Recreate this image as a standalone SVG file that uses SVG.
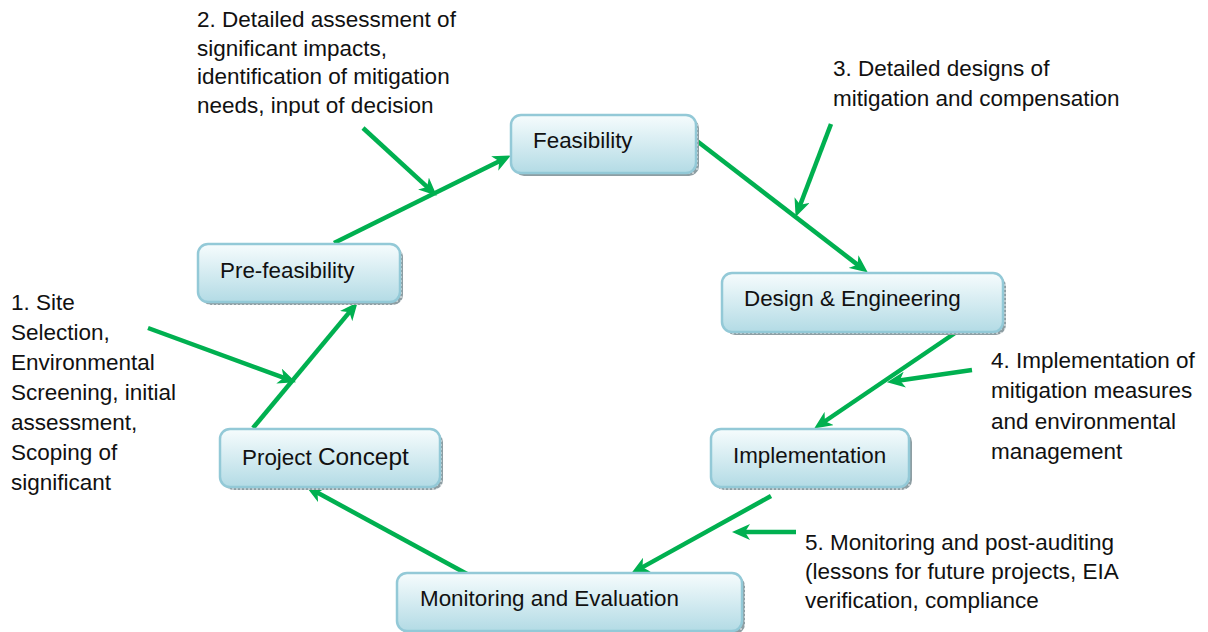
<svg xmlns="http://www.w3.org/2000/svg" width="1208" height="632" viewBox="0 0 1208 632">
<style>
.box{fill:url(#g);stroke:#93c9d7;stroke-width:2.5}
.sh{fill:url(#hatch)}
.lbl{font-family:"Liberation Sans",Arial,sans-serif;font-size:22.4px;fill:#111}
.ann{font-family:"Liberation Sans",Arial,sans-serif;font-size:22.5px;fill:#111}
.con{stroke:#00b050;stroke-width:4.5;fill:none;marker-end:url(#ah)}
</style>
<defs>
<linearGradient id="g" x1="0" y1="0" x2="0" y2="1">
<stop offset="0" stop-color="#f6fcfd"/>
<stop offset="1" stop-color="#b3dbe5"/>
</linearGradient>
<pattern id="hatch" width="4" height="4" patternUnits="userSpaceOnUse">
<rect width="4" height="4" fill="#8e9ea3"/>
<rect width="2" height="2" fill="#c4cdd0"/>
</pattern>
<marker id="ah" markerUnits="userSpaceOnUse" markerWidth="18" markerHeight="16" viewBox="0 0 18 16" refX="9" refY="8" orient="auto">
<path d="M0,0 L18,8 L0,16 L5,8 z" fill="#00b050"/>
</marker>
<clipPath id="c2"><rect x="0" y="0" width="600" height="116"/></clipPath>
</defs>

<g id="connectors">
<line class="con" x1="334" y1="243" x2="502.8" y2="159.5"/>
<line class="con" x1="363" y1="128" x2="430.1" y2="189.6"/>
<line class="con" x1="697" y1="141" x2="860.7" y2="267.1"/>
<line class="con" x1="831" y1="124" x2="798.8" y2="208.5"/>
<line class="con" x1="958" y1="331" x2="821.6" y2="423.5"/>
<line class="con" x1="972" y1="370" x2="895.9" y2="380.9"/>
<line class="con" x1="771" y1="496" x2="639" y2="569.1"/>
<line class="con" x1="796" y1="532" x2="741" y2="532"/>
<line class="con" x1="467" y1="574" x2="314" y2="490.8"/>
<line class="con" x1="253" y1="428" x2="351.9" y2="309.1"/>
<line class="con" x1="148" y1="328" x2="287.5" y2="379.2"/>
</g>

<g id="feasibility">
<rect class="sh" x="514" y="118" width="185" height="58" rx="10"/>
<rect class="box" x="511" y="115" width="185" height="58" rx="10"/>
<text class="lbl" x="533" y="148">Feasibility</text>
</g>
<g id="pre-feasibility">
<rect class="sh" x="201" y="247" width="202" height="58" rx="10"/>
<rect class="box" x="198" y="244" width="202" height="58" rx="10"/>
<text class="lbl" x="220" y="278">Pre-feasibility</text>
</g>
<g id="design-engineering">
<rect class="sh" x="725" y="276" width="281" height="59" rx="10"/>
<rect class="box" x="722" y="273" width="281" height="59" rx="10"/>
<text class="lbl" x="744" y="306">Design &amp; Engineering</text>
</g>
<g id="project-concept">
<rect class="sh" x="223" y="432" width="220" height="58" rx="10"/>
<rect class="box" x="220" y="429" width="220" height="58" rx="10"/>
<text class="lbl" x="242" y="465">Project <tspan font-size="24.4">Concept</tspan></text>
</g>
<g id="implementation">
<rect class="sh" x="714" y="432" width="198" height="58" rx="10"/>
<rect class="box" x="711" y="429" width="198" height="58" rx="10"/>
<text class="lbl" x="733" y="463">Implementation</text>
</g>
<g id="monitoring-evaluation">
<rect class="sh" x="400" y="576" width="345" height="58" rx="10"/>
<rect class="box" x="397" y="573" width="345" height="58" rx="10"/>
<text class="lbl" x="420" y="606">Monitoring and Evaluation</text>
</g>

<g id="note-1">
<text class="ann" x="11" y="310">1. Site</text>
<text class="ann" x="11" y="340">Selection,</text>
<text class="ann" x="11" y="370">Environmental</text>
<text class="ann" x="11" y="400">Screening, initial</text>
<text class="ann" x="11" y="430">assessment,</text>
<text class="ann" x="11" y="460">Scoping of</text>
<text class="ann" x="11" y="490">significant</text>
</g>
<g id="note-2" clip-path="url(#c2)">
<text class="ann" x="197" y="27">2. Detailed assessment of</text>
<text class="ann" x="197" y="56">significant impacts,</text>
<text class="ann" x="197" y="84">identification of mitigation</text>
<text class="ann" x="197" y="113">needs, input of decision</text>
</g>
<g id="note-3">
<text class="ann" x="833" y="76">3. Detailed designs of</text>
<text class="ann" x="833" y="106">mitigation and compensation</text>
</g>
<g id="note-4">
<text class="ann" x="991" y="368">4. Implementation of</text>
<text class="ann" x="991" y="398">mitigation measures</text>
<text class="ann" x="991" y="429">and environmental</text>
<text class="ann" x="991" y="459">management</text>
</g>
<g id="note-5">
<text class="ann" x="805" y="550">5. Monitoring and post-auditing</text>
<text class="ann" x="805" y="579">(lessons for future projects, EIA</text>
<text class="ann" x="805" y="608">verification, compliance</text>
</g>
</svg>
